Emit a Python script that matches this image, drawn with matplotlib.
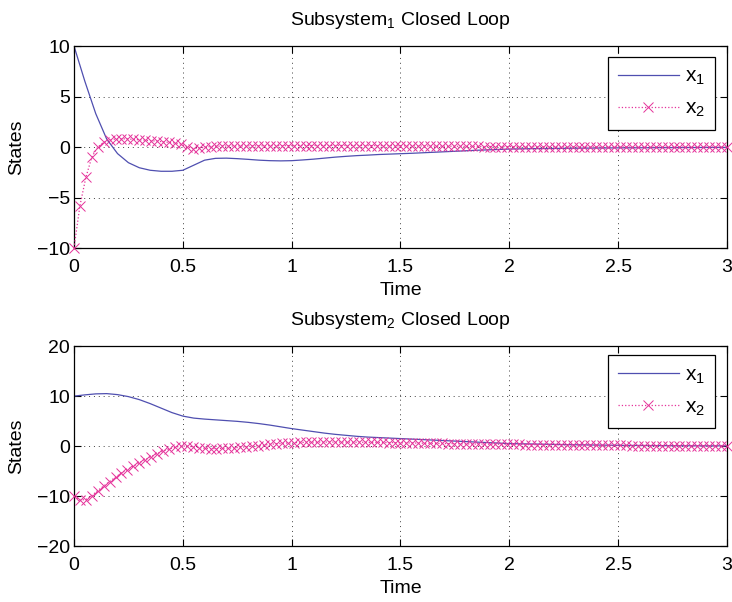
import numpy as np
import matplotlib
matplotlib.use('Agg')
import matplotlib.pyplot as plt

plt.rcParams['font.family'] = ['Liberation Sans', 'DejaVu Sans']
plt.rcParams['mathtext.fontset'] = 'custom'
plt.rcParams['mathtext.rm'] = 'Liberation Sans'
plt.rcParams['mathtext.it'] = 'Liberation Sans'
plt.rcParams['font.size'] = 14

# time grids (line samples and marker samples)
t_line = np.linspace(0, 3, 61)
t_mark = np.linspace(0, 3, 111)

# subsystem 1
sub1_x1 = [10.0, 6.5, 3.3, 0.8, -0.65, -1.55, -2.05, -2.3, -2.4, -2.4,
           -2.3, -1.8, -1.3, -1.12, -1.1, -1.15, -1.22, -1.3, -1.35, -1.37,
           -1.35, -1.28, -1.2, -1.1, -1.0, -0.92, -0.85, -0.8, -0.74, -0.7,
           -0.66, -0.62, -0.57, -0.52, -0.47, -0.42, -0.37, -0.32, -0.28, -0.24,
           -0.2, -0.18, -0.16, -0.15, -0.14, -0.13, -0.12, -0.11, -0.1, -0.09,
           -0.08, -0.08, -0.07, -0.07, -0.06, -0.06, -0.05, -0.05, -0.04, -0.04,
           -0.04]
sub1_x2 = [-10.0, -5.8, -3.0, -1.0, 0.0, 0.45, 0.7, 0.8, 0.82, 0.8,
           0.76, 0.72, 0.68, 0.63, 0.58, 0.52, 0.46, 0.4, 0.3, 0.05,
           -0.15, -0.12, -0.02, 0.05, 0.08, 0.1, 0.1, 0.11, 0.11, 0.12,
           0.12, 0.12, 0.13, 0.13, 0.13, 0.14, 0.14, 0.14, 0.15, 0.15,
           0.15, 0.15, 0.15, 0.15, 0.15, 0.15, 0.15, 0.15, 0.15, 0.14,
           0.14, 0.14, 0.13, 0.13, 0.13, 0.12, 0.12, 0.11, 0.11, 0.1,
           0.1, 0.09, 0.09, 0.08, 0.08, 0.07, 0.07, 0.06, 0.06, 0.05,
           0.05, 0.05, 0.04, 0.04, 0.04, 0.03, 0.03, 0.03, 0.03, 0.02,
           0.02, 0.02, 0.02, 0.02, 0.02, 0.01, 0.01, 0.01, 0.01, 0.01,
           0.01, 0.01, 0.01, 0.01, 0.0, 0.0, 0.0, 0.0, 0.0, 0.0,
           0.0, 0.0, 0.0, 0.0, 0.0, 0.0, 0.0, 0.0, 0.0, 0.0, 0.0]

# subsystem 2
sub2_x1 = [10.0, 10.25, 10.45, 10.5, 10.3, 9.9, 9.3, 8.5, 7.6, 6.7,
           6.0, 5.6, 5.4, 5.25, 5.1, 4.95, 4.75, 4.5, 4.2, 3.85,
           3.5, 3.2, 2.9, 2.6, 2.35, 2.15, 1.95, 1.8, 1.7, 1.6,
           1.5, 1.4, 1.3, 1.2, 1.1, 1.0, 0.9, 0.8, 0.7, 0.6,
           0.5, 0.46, 0.42, 0.38, 0.34, 0.3, 0.27, 0.24, 0.21, 0.18,
           0.15, 0.13, 0.12, 0.1, 0.09, 0.08, 0.07, 0.06, 0.05, 0.05,
           0.04]
sub2_x2 = [-10.0, -10.8, -10.7, -9.9, -8.9, -8.0, -7.1, -6.2, -5.4, -4.7,
           -4.0, -3.3, -2.7, -2.1, -1.5, -1.0, -0.6, -0.25, 0.0, 0.0,
           -0.15, -0.3, -0.45, -0.5, -0.5, -0.45, -0.4, -0.35, -0.25, -0.15,
           0.0, 0.1, 0.2, 0.35, 0.45, 0.55, 0.62, 0.68,
           0.72, 0.75, 0.78, 0.8, 0.8, 0.8, 0.8, 0.8, 0.8, 0.78,
           0.77, 0.76, 0.75, 0.74, 0.72, 0.7, 0.68, 0.66, 0.64, 0.62,
           0.6, 0.58, 0.56, 0.54, 0.52, 0.5, 0.48, 0.46, 0.44, 0.42,
           0.41, 0.4, 0.38, 0.37, 0.36, 0.34, 0.33, 0.32, 0.3, 0.29,
           0.28, 0.27, 0.26, 0.25, 0.24, 0.22, 0.21, 0.2, 0.19, 0.18,
           0.17, 0.16, 0.15, 0.14, 0.13, 0.12, 0.11, 0.1, 0.1, 0.09,
           0.08, 0.08, 0.07, 0.06, 0.06, 0.05, 0.05, 0.04, 0.04, 0.03, 0.03, 0.03, 0.02]

line_col = '#4f4fb0'
mark_col = '#e5329a'

fig = plt.figure(figsize=(7.32, 6.02), dpi=100)
ax1 = fig.add_axes([0.1011, 0.588, 0.892, 0.3355])
ax2 = fig.add_axes([0.1011, 0.093, 0.892, 0.332])

panels = [
    (ax1, sub1_x1, sub1_x2, 'Subsystem$_1$ Closed Loop', (-10, 10), [-10, -5, 0, 5, 10], 0.947),
    (ax2, sub2_x1, sub2_x2, 'Subsystem$_2$ Closed Loop', (-20, 20), [-20, -10, 0, 10, 20], 0.955),
]

for ax, x1, x2, title, ylim, yticks, leg_top in panels:
    ax.plot(t_line, x1, '-', color=line_col, lw=0.9, label='x$_1$')
    ax.plot(t_mark, x2, ':', color=mark_col, lw=0.9, marker='x', ms=6.5,
            mew=0.7, label='x$_2$', clip_on=False, zorder=3)
    ax.set_xlim(0, 3)
    ax.set_ylim(*ylim)
    ax.set_yticks(yticks)
    ax.set_xticks([0, 0.5, 1, 1.5, 2, 2.5, 3])
    ax.set_xticklabels(['0', '0.5', '1', '1.5', '2', '2.5', '3'])
    ax.grid(True, linestyle=(0, (1, 4)), color='0.25', lw=0.7)
    ax.tick_params(direction='in', top=True, right=True, labelsize=14, length=5)
    ax.tick_params(axis='x', pad=8)
    ax.tick_params(axis='y', pad=3)
    for s in ax.spines.values():
        s.set_linewidth(0.9)
    ax.set_title(title, fontsize=14, pad=15)
    ax.set_xlabel('Time', fontsize=14, labelpad=4)
    ax.set_ylabel('States', fontsize=14, labelpad=8)
    leg = ax.legend(loc='upper right', bbox_to_anchor=(0.982, leg_top), borderaxespad=0,
                    fancybox=False, framealpha=1, edgecolor='black', fontsize=15,
                    handlelength=2.9, borderpad=0.5, labelspacing=0.55, handletextpad=0.3)
    leg.get_frame().set_linewidth(0.9)

fig.savefig('out.png', dpi=100)
